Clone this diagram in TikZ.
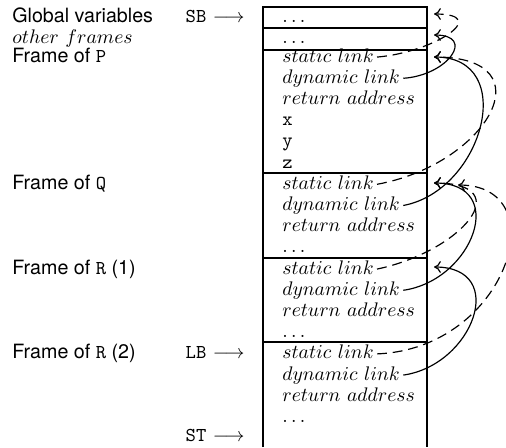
\documentclass[tikz,border=0pt]{standalone}
\usepackage{fontspec}
\setsansfont{TeX Gyre Heros}
\usetikzlibrary{arrows.meta}
\begin{document}
\begin{tikzpicture}[x=0.5084pt,y=-0.5084pt,
  rowtxt/.style={anchor=base west,inner xsep=1.5pt,inner ysep=0pt,text height=7pt,text depth=2pt},
  framelbl/.style={anchor=base west,inner sep=0pt,font=\sffamily},
  regptr/.style={anchor=base east,inner sep=0pt},
  stackline/.style={line width=0.9pt},
  dynptr/.style={-{To[length=3.5pt,width=6pt]},line width=0.6pt},
  statptr/.style={dynptr,dash pattern=on 5pt off 3pt}]
\useasboundingbox (0,0) rectangle (506,447);

% the stack column
\draw[stackline] (263,447) -- (263,7) -- (427,7) -- (427,447);
\foreach \yy in {28,50,173,258,342}
  \draw[stackline] (263,\yy) -- (427,\yy);

% frame names on the left
\node[framelbl] (lglob) at (12,22) {Global variables};
\node[framelbl,font=\rmfamily] (lother) at (12,43) {$other\ frames$};
\node[framelbl] (lP) at (12,62) {Frame of \texttt{P}};
\node[framelbl] (lQ) at (12,189.2) {Frame of \texttt{Q}};
\node[framelbl] (lR1) at (12,274) {Frame of \texttt{R} (1)};
\node[framelbl] (lR2) at (12,358.8) {Frame of \texttt{R} (2)};

% registers
\node[regptr] (sb) at (245,22) {\texttt{SB} $\longrightarrow$};
\node[regptr] (lb) at (245,358.8) {\texttt{LB} $\longrightarrow$};
\node[regptr] (st) at (245,441) {\texttt{ST} $\longrightarrow$};

% cell contents
\node[rowtxt] (gdots) at (279,22) {$\ldots$};
\node[rowtxt] (odots) at (279,43) {$\ldots$};

\node[rowtxt] (Psl) at (279,62) {$static\ link$};
\node[rowtxt] (Pdl) at (279,83.2) {$dynamic\ link$};
\node[rowtxt] (Pra) at (279,104.4) {$return\ address$};
\node[rowtxt] (Px) at (279,125.6) {\texttt{x}};
\node[rowtxt] (Py) at (279,146.8) {\texttt{y}};
\node[rowtxt] (Pz) at (279,168) {\texttt{z}};

\node[rowtxt] (Qsl) at (279,189.2) {$static\ link$};
\node[rowtxt] (Qdl) at (279,210.4) {$dynamic\ link$};
\node[rowtxt] (Qra) at (279,231.6) {$return\ address$};
\node[rowtxt] (Qdots) at (279,252.8) {$\ldots$};

\node[rowtxt] (Asl) at (279,274) {$static\ link$};
\node[rowtxt] (Adl) at (279,295.2) {$dynamic\ link$};
\node[rowtxt] (Ara) at (279,316.4) {$return\ address$};
\node[rowtxt] (Adots) at (279,337.6) {$\ldots$};

\node[rowtxt] (Bsl) at (279,358.8) {$static\ link$};
\node[rowtxt] (Bdl) at (279,380) {$dynamic\ link$};
\node[rowtxt] (Bra) at (279,401.2) {$return\ address$};
\node[rowtxt] (Bdots) at (279,422.4) {$\ldots$};

% arrow targets beside the column
\coordinate (tG) at (434,14);
\coordinate (tO) at (434,35);
\coordinate (tP) at (434,57);
\coordinate (tQ) at (434,183);
\coordinate (tQb) at (458,185);
\coordinate (tA) at (434,267);

% frame of P
\draw[statptr] (Psl.east) .. controls +(58,-5) and +(58,0) .. (tG);
\draw[dynptr] (Pdl.east) .. controls +(45,-3) and +(42,0) .. (tO);
% frame of Q
\draw[statptr] (Qsl.east) .. controls +(110,-20) and +(115,0) .. (tP);
\draw[dynptr] (Qdl.east) .. controls +(80,-15) and +(85,0) .. (tP);
% first frame of R
\draw[statptr] (Asl.east) .. controls +(85,-18) and +(85,0) .. (tQ);
\draw[dynptr] (Adl.east) .. controls +(70,-10) and +(75,0) .. (tQ);
% second frame of R
\draw[statptr] (Bsl.east) .. controls +(130,-5) and +(100,0) .. (tQb);
\draw[dynptr] (Bdl.east) .. controls +(70,-10) and +(75,0) .. (tA);
\end{tikzpicture}
\end{document}
